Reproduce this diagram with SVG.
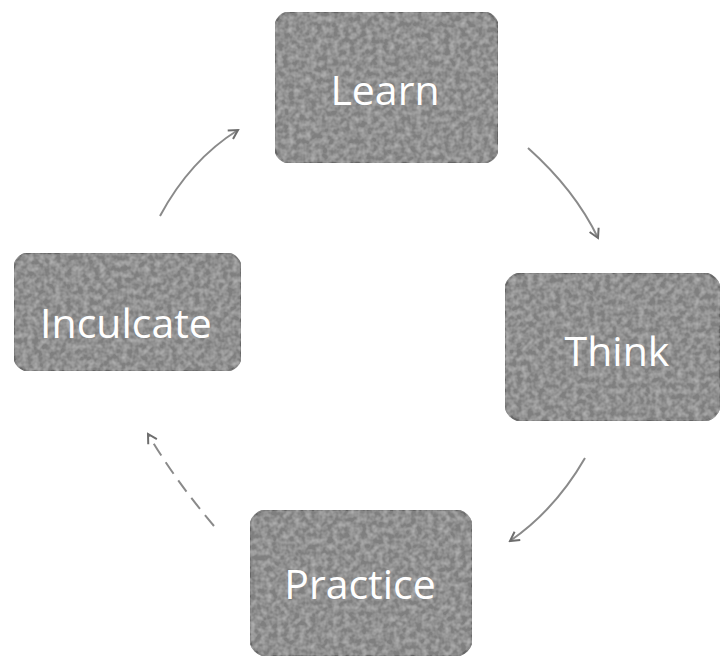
<svg xmlns="http://www.w3.org/2000/svg" width="721" height="663" viewBox="0 0 721 663">
  <defs>
    <filter id="grain" x="0" y="0" width="100%" height="100%">
      <feTurbulence type="fractalNoise" baseFrequency="0.18" numOctaves="2" seed="7" result="n"/>
      <feColorMatrix in="n" type="matrix" values="0 0 0 0 0.45  0 0 0 0 0.45  0 0 0 0 0.45  0 0 0 -1.6 1.1" result="tint"/>
      <feComposite in="tint" in2="SourceGraphic" operator="in" result="tex"/>
      <feMerge><feMergeNode in="SourceGraphic"/><feMergeNode in="tex"/></feMerge>
    </filter>
    <marker id="arrow" viewBox="0 0 12 12" refX="10" refY="6" markerWidth="12" markerHeight="12" markerUnits="userSpaceOnUse" orient="auto">
      <path d="M1,1 L10,6 L1,11" fill="none" stroke="#6e6e6e" stroke-width="2"/>
    </marker>
    <style>
      .box { fill: #7f7f7f; stroke: #666666; stroke-width: 2; filter: url(#grain); }
      .label { font-family: "Open Sans", "Liberation Sans", sans-serif; font-size: 41px; fill: #ffffff; text-anchor: middle; }
      .link { fill: none; stroke: #8a8a8a; stroke-width: 2; marker-end: url(#arrow); }
    </style>
  </defs>
  <rect width="721" height="663" fill="#ffffff"/>

  <g id="connectors">
    <path class="link" d="M160,216 Q190,160 238,130"/>
    <path class="link" d="M528,148 Q575,190 598,238"/>
    <path class="link" d="M585,458 Q555,510 510,541"/>
    <path class="link" d="M214,526 Q175,480 148,434" stroke-dasharray="14 8"/>
  </g>

  <g id="node-learn">
    <rect class="box" x="275" y="12" width="223" height="151" rx="16"/>
    <text class="label" x="385" y="105">Learn</text>
  </g>
  <g id="node-think">
    <rect class="box" x="505" y="273" width="215" height="148" rx="18"/>
    <text class="label" x="617" y="366">Think</text>
  </g>
  <g id="node-practice">
    <rect class="box" x="250" y="510" width="222" height="146" rx="18"/>
    <text class="label" x="360" y="599">Practice</text>
  </g>
  <g id="node-inculcate">
    <rect class="box" x="14" y="253" width="227" height="118" rx="16"/>
    <text class="label" x="126" y="338">Inculcate</text>
  </g>
</svg>
